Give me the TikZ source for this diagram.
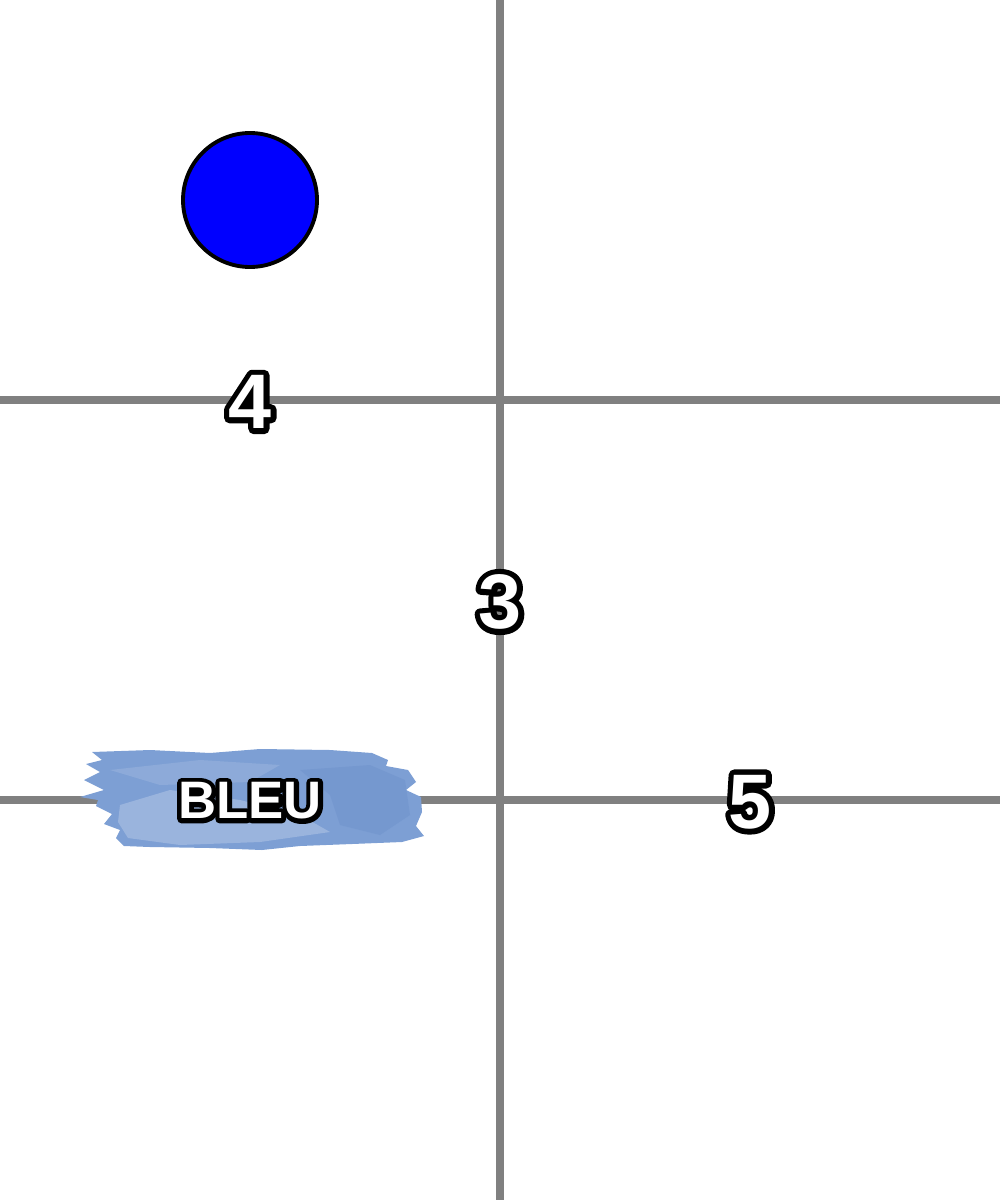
\documentclass[tikz,border=0pt]{standalone}
\usepackage{fontspec}
\setmainfont{Liberation Sans}
\usetikzlibrary{positioning}
\definecolor{gridgray}{HTML}{808080}
\definecolor{brush}{HTML}{7D9FD4}
\definecolor{brushlight}{HTML}{B2C6E6}
\definecolor{brushdark}{HTML}{6A8EC9}
% white letters with a thick black rim (stroked copy underneath)
\newcommand\outl[2][3]{\leavevmode\rlap{\special{pdf:literal direct 1 Tr #1 w 1 j 1 J}\color{black}#2\special{pdf:literal direct 0 Tr}}\textcolor{white}{#2}}
\tikzset{gridline/.style={gridgray,line width=2.3pt},dot/.style={circle,draw=black,fill=blue,line width=1.1pt,minimum size=13.4mm,inner sep=0pt},numlbl/.style={font=\fontsize{22}{22}\selectfont\bfseries,inner sep=0pt},wordlbl/.style={font=\fontsize{15}{15}\selectfont\bfseries,inner sep=0pt}}

\begin{document}
\begin{tikzpicture}[x=0.1mm,y=-0.1mm]
\useasboundingbox (0,0) rectangle (1000,1200);
\draw[gridline] (500,0) -- (500,1200);
\draw[gridline] (0,400) -- (1000,400);\draw[gridline] (0,800) -- (1000,800);
\node[dot] (bluedot) at (250,200) {};
% watercolour stroke
\fill[brush] (92,752) -- (150,750) -- (210,753) -- (260,749) -- (330,750) -- (372,753) -- (388,760) -- (386,766) -- (408,770) -- (416,782) -- (406,790) -- (421,797) -- (422,812) -- (416,826) -- (424,836) -- (402,842) -- (352,844) -- (300,846) -- (262,850) -- (210,848) -- (150,847) -- (124,846) -- (116,838) -- (120,830) -- (104,824) -- (112,814) -- (96,806) -- (98,800) -- (80,797) -- (104,790) -- (84,780) -- (100,772) -- (86,764) -- (102,760) -- cycle;
\fill[brushlight,opacity=.55] (120,805) -- (170,790) -- (240,800) -- (300,815) -- (330,832) -- (260,842) -- (180,845) -- (128,838) -- (118,822) -- cycle;
\fill[brushlight,opacity=.3] (110,770) -- (200,760) -- (280,765) -- (250,782) -- (160,785) -- cycle;
\fill[brushdark,opacity=.4] (300,770) -- (370,765) -- (405,780) -- (410,815) -- (380,835) -- (340,825) -- (330,795) -- cycle;
\node[wordlbl] (bleu) at (250,801) {\outl[2.6]{BLEU}};
\node[numlbl] (four) at (250,402) {\outl[3.2]{4}};
\node[numlbl] (three) at (500,602) {\outl[3.2]{3}};
\node[numlbl] (five) at (750,802) {\outl[3.2]{5}};
\end{tikzpicture}
\end{document}
